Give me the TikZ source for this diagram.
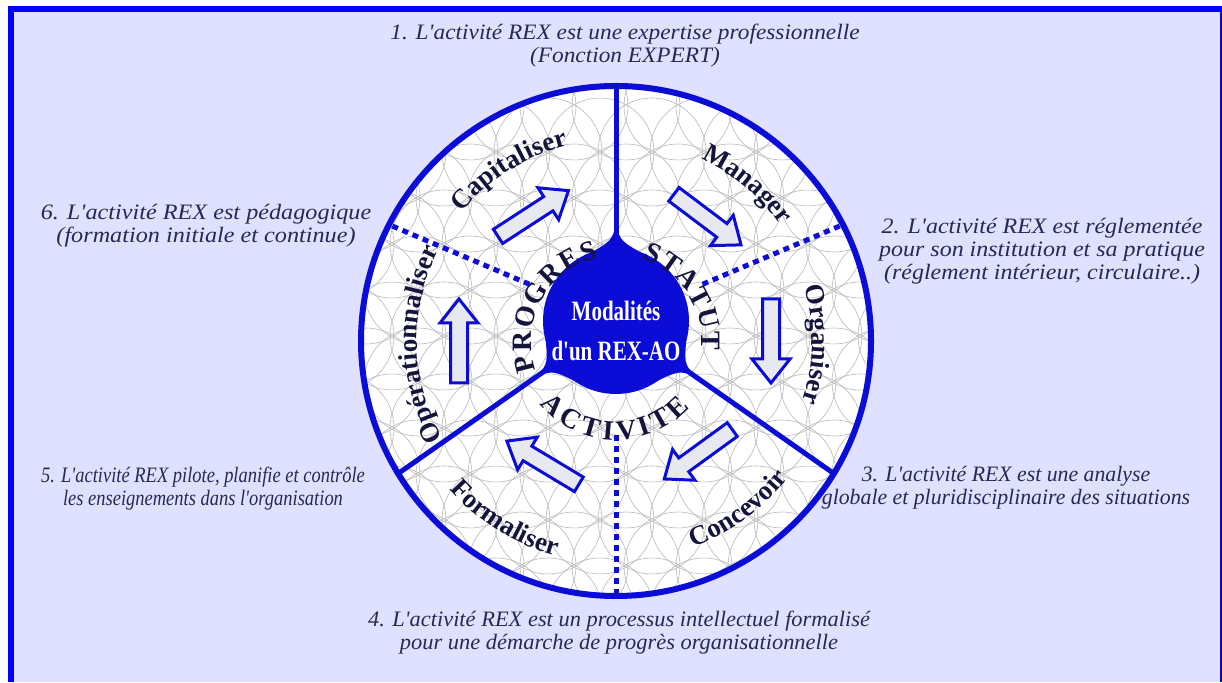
\documentclass[tikz,border=0pt]{standalone}
\usepackage{fontspec}
\setmainfont{Liberation Serif}[Ligatures=TeXOff]
\usetikzlibrary{decorations.text,calc}
\definecolor{rexblue}{RGB}{12,12,215}
\definecolor{framebl}{RGB}{0,0,255}
\definecolor{bgl}{RGB}{224,224,255}
\definecolor{labcol}{RGB}{40,40,85}
\definecolor{wordcol}{RGB}{20,20,60}
\definecolor{arrfill}{RGB}{232,232,240}
\newcommand\wordfont{\fontsize{27}{27}\selectfont\bfseries}
\newcommand\ringfont{\fontsize{28}{28}\selectfont\bfseries}
\begin{document}
\begin{tikzpicture}[x=1pt,y=1pt,
  lab/.style={font=\fontsize{22}{23}\selectfont\itshape, text=labcol, align=center, inner sep=0pt},
  solidline/.style={rexblue, line width=5pt},
  dashline/.style={rexblue, line width=5pt, dash pattern=on 6pt off 5pt},
  barrow/.style={draw=rexblue, fill=arrfill, line width=3pt, line join=miter},
  blockarr/.pic={\draw[barrow] (-42,-8.5) -- (18,-8.5) -- (18,-19) -- (42,0) -- (18,19) -- (18,8.5) -- (-42,8.5) -- cycle;},
  ringtext/.style={decorate, decoration={text along path, text align={fit to path}, text color=wordcol, text={|\ringfont|#1}}},
  wordtext/.style={decorate, decoration={text along path, text align=center, text color=wordcol, text={|\wordfont|#1}}}
]
\useasboundingbox (0,0) rectangle (1222,682);
% frame and background
\fill[white] (0,0) rectangle (1222,682);
\fill[bgl] (8,0) rectangle (1222,676);
\fill[framebl] (8,670) rectangle (1222,676);
\fill[framebl] (8,0) rectangle (14,676);
\fill[rexblue!80!black] (1220,0) rectangle (1222,670);

\coordinate (C) at (616,341);
\coordinate (B) at (616,361);

% wheel
\fill[white] (C) circle (255);
\begin{scope}
  \clip (C) circle (255);
  \foreach \j in {0,...,11} {
    \foreach \i in {0,...,11} {
      \pgfmathsetmacro\xx{340+\i*52+mod(\j,2)*26}
      \pgfmathsetmacro\yy{70+\j*46}
      \draw[gray!55, line width=0.6pt] (\xx,\yy) circle (54);
    }
  }
  \draw[solidline] (B) -- ($(B)+(90:300)$);
  \draw[solidline] (B) -- ($(B)+(215:300)$);
  \draw[solidline] (B) -- ($(B)+(325:300)$);
  \draw[dashline] ($(B)+(157:94)$) -- ($(B)+(157:300)$);
  \draw[dashline] ($(B)+(23:94)$) -- ($(B)+(23:300)$);
  \draw[dashline] ($(B)+(270:114)$) -- ($(B)+(270:300)$);
\end{scope}
\draw[rexblue, line width=6pt] (C) circle (255);

% central blob
\fill[rexblue] (B) circle (73);
\foreach \a in {90,215,325} {
  \fill[rexblue] ($(B)+({\a-27}:72)$) .. controls ($(B)+({\a-3}:80)$) .. ($(B)+(\a:97)$)
     .. controls ($(B)+({\a+3}:80)$) .. ($(B)+({\a+27}:72)$) -- (B) -- cycle;
}
\node[text=white, font=\fontsize{28}{40}\selectfont\bfseries, xscale=0.75, align=center] (ctr) at (616,351) {Modalités\\d'un REX-AO};

% ring words
\path[ringtext=PROGRES] ($(C)+(200:85)$) arc[start angle=200, end angle=102, radius=85];
\path[ringtext=STATUT] ($(C)+(72:86)$) arc[start angle=72, end angle=-6, radius=86];
\path[ringtext=ACTIVITE] ($(C)+(220:99)$) arc[start angle=220, end angle=318, radius=99];

% outer words
\path[wordtext=Capitaliser] ($(C)+(172:201)$) arc[start angle=172, end angle=72, radius=201];
\path[wordtext=Manager] ($(C)+(100:201)$) arc[start angle=100, end angle=0, radius=201];
\path[wordtext=Organiser] ($(C)+(49:196)$) arc[start angle=49, end angle=-51, radius=196];
\path[wordtext=Opérationnaliser] ($(C)+(241:199)$) arc[start angle=241, end angle=121, radius=199];
\path[wordtext=Concevoir] ($(C)+(-104:220)$) arc[start angle=-104, end angle=-4, radius=220];
\path[wordtext=Formaliser] ($(C)+(188:223)$) arc[start angle=188, end angle=288, radius=223];

% block arrows
\pic[rotate=33] at ($(C)+(123:152)$) {blockarr};
\pic[rotate=-37] at ($(C)+(53:152)$) {blockarr};
\pic[rotate=-90] at ($(C)+(0:155)$) {blockarr};
\pic[rotate=-144] at ($(C)+(-54:140)$) {blockarr};
\pic[rotate=149] at ($(C)+(-121:142)$) {blockarr};
\pic[rotate=90] at ($(C)+(180:157)$) {blockarr};

% statements
\node[lab, xscale=1.06] (l1) at (625,636) {1. L'activité REX est une expertise professionnelle\\(Fonction EXPERT)};
\node[lab, xscale=1.09] (l2) at (1042,431) {2. L'activité REX est réglementée\\pour son institution et sa pratique\\(réglement intérieur, circulaire..)};
\node[lab, xscale=0.99] (l3) at (1006,194) {3. L'activité REX est une analyse\\globale et pluridisciplinaire des situations};
\node[lab, xscale=1.02] (l4) at (619,49) {4. L'activité REX est un processus intellectuel formalisé\\pour une démarche de progrès organisationnelle};
\node[lab, xscale=0.84] (l5) at (203,193) {5. L'activité REX pilote, planifie et contrôle\\les enseignements dans l'organisation};
\node[lab, xscale=1.1] (l6) at (206,456) {6. L'activité REX est pédagogique\\(formation initiale et continue)};
\end{tikzpicture}
\end{document}
